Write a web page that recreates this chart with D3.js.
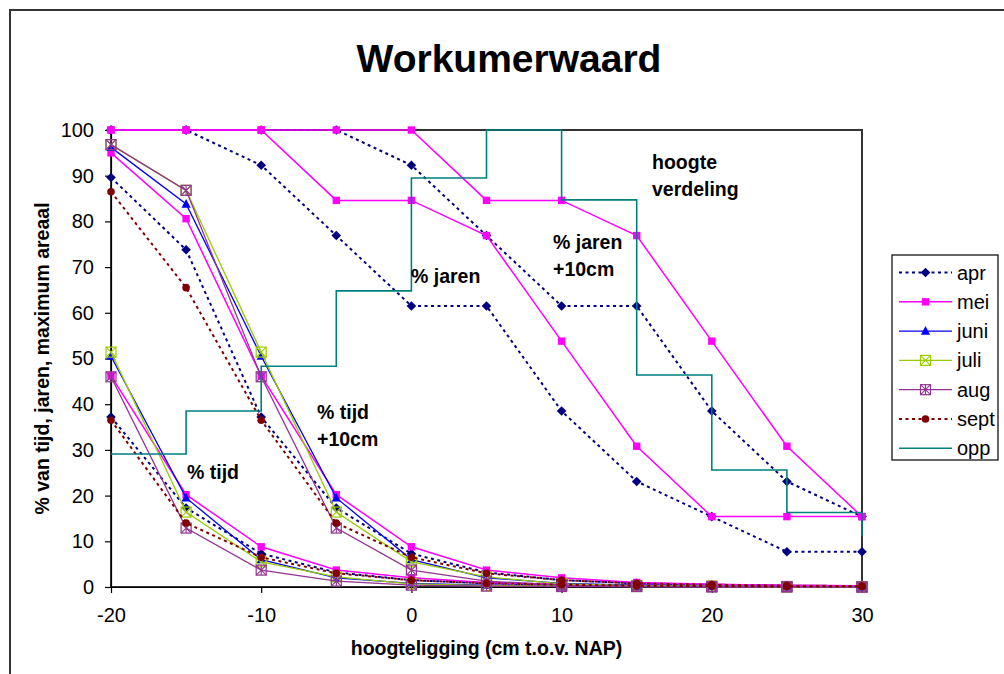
<!DOCTYPE html>
<html>
<head>
<meta charset="utf-8">
<script src="https://cdn.jsdelivr.net/npm/d3@7"></script>
<style>
  html, body { margin: 0; padding: 0; background: #fff; }
  svg { display: block; font-family: "Liberation Sans", Arial, sans-serif; }
</style>
</head>
<body>
<svg id="chart" width="1004" height="674"></svg>
<script>
// Heights along the x axis (cm t.o.v. NAP)
const heights = [-20, -15, -10, -5, 0, 5, 10, 15, 20, 25, 30];
const xTicks = [-20, -10, 0, 10, 20, 30];
const yTicks = [0, 10, 20, 30, 40, 50, 60, 70, 80, 90, 100];

// % tijd per maand
const tijdApr  = [37.2, 17.3, 7.3, 3.2, 1.5, 0.8, 0.5, 0.3, 0.2, 0.1, 0.1];
const tijdMei  = [46.2, 20.2, 8.8, 3.7, 2.0, 1.0, 0.6, 0.4, 0.3, 0.2, 0.1];
const tijdJuni = [50.5, 19.5, 6.0, 2.0, 0.8, 0.4, 0.2, 0.1, 0.1, 0.0, 0.0];
const tijdJuli = [51.4, 16.4, 5.5, 2.2, 0.7, 0.3, 0.2, 0.1, 0.1, 0.0, 0.0];
const tijdAug  = [46.0, 12.9, 3.7, 1.3, 0.4, 0.2, 0.1, 0.1, 0.0, 0.0, 0.0];
const tijdSept = [36.5, 14.0, 6.5, 3.0, 1.5, 0.8, 0.5, 0.3, 0.2, 0.1, 0.1];

// % tijd bij een waterstand 10 cm hoger
const tijd10Apr  = [89.6, 73.8, 37.2, 17.3, 7.3, 3.2, 1.5, 0.8, 0.5, 0.3, 0.2];
const tijd10Mei  = [95.0, 80.6, 46.2, 20.2, 8.8, 3.7, 2.0, 1.0, 0.6, 0.4, 0.3];
const tijd10Juni = [96.2, 83.8, 50.5, 19.5, 6.0, 2.0, 0.8, 0.4, 0.2, 0.1, 0.1];
const tijd10Juli = [96.8, 86.8, 51.4, 16.4, 5.5, 2.2, 0.7, 0.3, 0.2, 0.1, 0.1];
const tijd10Aug  = [96.8, 86.8, 46.0, 12.9, 3.7, 1.3, 0.4, 0.2, 0.1, 0.1, 0.0];
const tijd10Sept = [86.5, 65.5, 36.5, 14.0, 6.5, 3.0, 1.5, 0.8, 0.5, 0.3, 0.2];

// % jaren (april en mei), ook bij +10 cm
const jarenApr   = [100, 100, 92.3, 76.9, 61.5, 61.5, 38.5, 23.1, 15.4, 7.7, 7.7];
const jaren10Apr = [100, 100, 100, 100, 92.3, 76.9, 61.5, 61.5, 38.5, 23.1, 15.4];
const jarenMei   = [100, 100, 100, 84.6, 84.6, 76.9, 53.8, 30.8, 15.4, 15.4, 15.4];
const jaren10Mei = [100, 100, 100, 100, 100, 84.6, 84.6, 76.9, 53.8, 30.8, 15.4];

// Hoogteverdeling (oppervlak, % van maximum areaal), per klasse vanaf de hoogte
const oppHeights = [-20, -15, -10, -5, 0, 5, 10, 15, 20, 25, 30];
const oppValues  = [29.1, 38.5, 48.3, 64.8, 89.5, 100, 84.7, 46.4, 25.6, 16.3, 11.2];

const series = [
  { name: "apr",  color: "#000080", dash: "3,3.5", width: 2,   marker: "diamond",
    curves: [tijdApr, tijd10Apr, jarenApr, jaren10Apr] },
  { name: "mei",  color: "#FF00FF", dash: null,    width: 1.5, marker: "square",
    curves: [tijdMei, tijd10Mei, jarenMei, jaren10Mei] },
  { name: "juni", color: "#0000FF", dash: null,    width: 1.3, marker: "triangle",
    curves: [tijdJuni, tijd10Juni] },
  { name: "juli", color: "#99CC00", dash: null,    width: 1.3, marker: "squareX",
    curves: [tijdJuli, tijd10Juli] },
  { name: "aug",  color: "#933393", dash: null,    width: 1.3, marker: "squareStar",
    curves: [tijdAug, tijd10Aug] },
  { name: "sept", color: "#800000", dash: "3,3.5", width: 2,   marker: "circle",
    curves: [tijdSept, tijd10Sept] }
];
const opp = { name: "opp", color: "#008080", width: 1.6 };

const svg = d3.select("#chart");
const FONT = "'Liberation Sans', Arial, sans-serif";

// Outer chart frame
svg.append("rect")
  .attr("x", 10).attr("y", 10).attr("width", 1010).attr("height", 700)
  .attr("fill", "#fff").attr("stroke", "#333").attr("stroke-width", 2);

const plot = { left: 111, right: 862, top: 130, bottom: 587 };
const x = d3.scaleLinear().domain([-20, 30]).range([plot.left, plot.right]);
const y = d3.scaleLinear().domain([0, 100]).range([plot.bottom, plot.top]);

// Plot area frame
svg.append("rect")
  .attr("x", plot.left).attr("y", plot.top)
  .attr("width", plot.right - plot.left).attr("height", plot.bottom - plot.top)
  .attr("fill", "#fff").attr("stroke", "#333").attr("stroke-width", 2);

// Axes
const yAxis = svg.append("g")
  .attr("transform", `translate(${plot.left},0)`)
  .call(d3.axisLeft(y).tickValues(yTicks).tickSize(6).tickPadding(11).tickSizeOuter(0));
const xAxis = svg.append("g")
  .attr("transform", `translate(0,${plot.bottom})`)
  .call(d3.axisBottom(x).tickValues(xTicks).tickSize(6).tickPadding(15).tickSizeOuter(0)
    .tickFormat(d3.format("d")));
[yAxis, xAxis].forEach(g => {
  g.select(".domain").attr("stroke", "#000").attr("stroke-width", 1.2);
  g.selectAll(".tick line").attr("stroke", "#000").attr("stroke-width", 1.2);
  g.selectAll(".tick text").attr("fill", "#000")
    .style("font-size", "20px").style("font-family", FONT);
});
xAxis.selectAll(".tick text").text(d => d < 0 ? "-" + Math.abs(d) : d);

// Marker drawing
function drawMarker(g, type, color, cx, cy) {
  const m = g.append("g").attr("transform", `translate(${cx},${cy})`);
  if (type === "diamond") {
    m.append("path").attr("d", "M0,-4.8L4.8,0L0,4.8L-4.8,0Z").attr("fill", color);
  } else if (type === "square") {
    m.append("rect").attr("x", -3.7).attr("y", -3.7).attr("width", 7.4).attr("height", 7.4)
      .attr("fill", color);
  } else if (type === "triangle") {
    m.append("path").attr("d", "M0,-5L4.6,3.6L-4.6,3.6Z").attr("fill", color);
  } else if (type === "circle") {
    m.append("circle").attr("r", 3.8).attr("fill", color);
  } else if (type === "squareX" || type === "squareStar") {
    const s = 5;
    m.append("rect").attr("x", -s).attr("y", -s).attr("width", 2 * s).attr("height", 2 * s)
      .attr("fill", "none").attr("stroke", color).attr("stroke-width", 1.2);
    let d = `M${-s},${-s}L${s},${s}M${-s},${s}L${s},${-s}`;
    if (type === "squareStar") d += `M0,${-s}L0,${s}`;
    m.append("path").attr("d", d).attr("stroke", color).attr("stroke-width", 1.1).attr("fill", "none");
  }
}

const line = d3.line().x((d, i) => x(heights[i])).y(d => y(d));

// Month series: lines then markers
series.forEach(s => {
  const g = svg.append("g").attr("class", "series-" + s.name);
  s.curves.forEach(vals => {
    g.append("path").datum(vals)
      .attr("d", line)
      .attr("fill", "none")
      .attr("stroke", s.color)
      .attr("stroke-width", s.width)
      .attr("stroke-dasharray", s.dash);
  });
  s.curves.forEach(vals => {
    vals.forEach((v, i) => drawMarker(g, s.marker, s.color, x(heights[i]), y(v)));
  });
});

// Height distribution as a step line
const stepLine = d3.line()
  .x((d, i) => x(oppHeights[i])).y(d => y(d))
  .curve(d3.curveStepAfter);
svg.append("path").datum(oppValues)
  .attr("d", stepLine)
  .attr("fill", "none").attr("stroke", opp.color).attr("stroke-width", opp.width);

// Title
svg.append("text")
  .attr("x", 509).attr("y", 72).attr("text-anchor", "middle")
  .style("font-family", FONT).style("font-size", "39px").style("font-weight", "bold")
  .text("Workumerwaard");

// Axis titles
svg.append("text")
  .attr("x", (plot.left + plot.right) / 2).attr("y", 655).attr("text-anchor", "middle")
  .style("font-family", FONT).style("font-size", "19.5px").style("font-weight", "bold")
  .text("hoogteligging (cm t.o.v. NAP)");
svg.append("text")
  .attr("transform", `translate(49,${(plot.top + plot.bottom) / 2}) rotate(-90)`)
  .attr("text-anchor", "middle")
  .style("font-family", FONT).style("font-size", "19.5px").style("font-weight", "bold")
  .text("% van tijd, jaren, maximum areaal");

// Curve annotations
const notes = [
  { lines: ["% tijd"], x: 187, y: 479 },
  { lines: ["% tijd", "+10cm"], x: 317, y: 419 },
  { lines: ["% jaren"], x: 411, y: 283 },
  { lines: ["% jaren", "+10cm"], x: 553, y: 249 },
  { lines: ["hoogte", "verdeling"], x: 652, y: 169 }
];
notes.forEach(n => {
  const t = svg.append("text")
    .attr("x", n.x).attr("y", n.y)
    .style("font-family", FONT).style("font-size", "19.5px").style("font-weight", "bold");
  n.lines.forEach((l, i) => {
    t.append("tspan").attr("x", n.x).attr("dy", i === 0 ? 0 : 27).text(l);
  });
});

// Legend
const legend = svg.append("g");
legend.append("rect")
  .attr("x", 892).attr("y", 255).attr("width", 106).attr("height", 205)
  .attr("fill", "#fff").attr("stroke", "#000").attr("stroke-width", 1.2);
const legendItems = series.map(s => ({ ...s })).concat([{ name: opp.name, color: opp.color, width: opp.width, dash: null, marker: null }]);
legendItems.forEach((s, i) => {
  const ly = 272.5 + i * 29.3;
  legend.append("line")
    .attr("x1", 899).attr("x2", 952).attr("y1", ly).attr("y2", ly)
    .attr("stroke", s.color).attr("stroke-width", s.width)
    .attr("stroke-dasharray", s.dash);
  if (s.marker) drawMarker(legend, s.marker, s.color, 925.5, ly);
  legend.append("text")
    .attr("x", 957).attr("y", ly + 7)
    .style("font-family", FONT).style("font-size", "20px")
    .text(s.name);
});
</script>
</body>
</html>
